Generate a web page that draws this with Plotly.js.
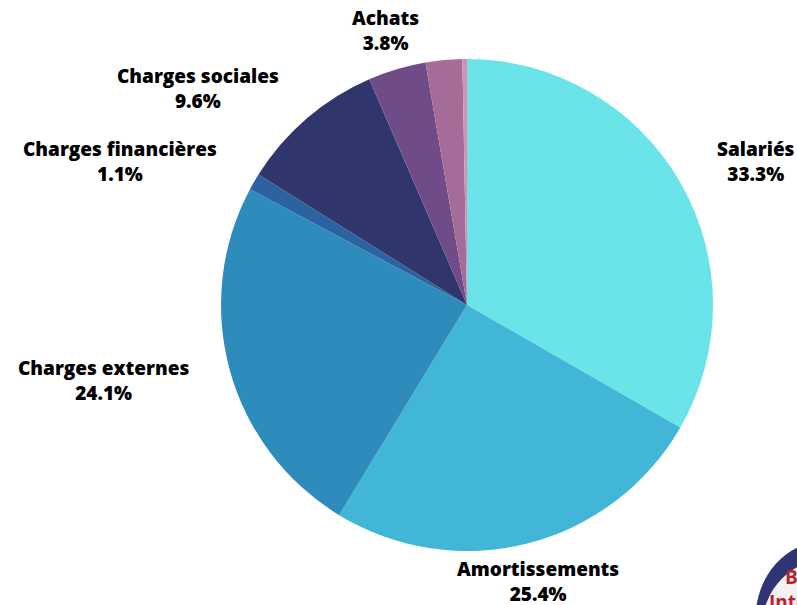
<!DOCTYPE html>
<html>
<head>
<meta charset="utf-8">
<script src="https://cdn.plot.ly/plotly-3.0.1.min.js"></script>
<style>html,body{margin:0;padding:0;background:#fff;}#chart{width:797px;height:605px;}</style>
</head>
<body>
<div id="chart"></div>
<script>
var categories = ["Salariés", "Amortissements", "Charges externes", "Charges financières", "Charges sociales", "Achats", "Impôts et taxes", "Autres"];
var values = [33.3, 25.4, 24.1, 1.1, 9.6, 3.8, 2.4, 0.3];
var showLabel = [true, true, true, true, true, true, false, false];
var colors = ["#6ae4e9", "#42b6d6", "#2e8cbc", "#2b62a0", "#30366c", "#6f4c87", "#a66c98", "#d98fb4"];

var W = 797, H = 605;
var domainX = [0.2773, 0.8946], domainY = [0.0893, 0.9025];

var trace = {
  type: "pie",
  labels: categories,
  values: values,
  sort: false,
  direction: "clockwise",
  rotation: 0,
  marker: {colors: colors, line: {width: 0}},
  textinfo: "none",
  automargin: false,
  domain: {x: domainX, y: domainY},
  hoverinfo: "label+percent",
  showlegend: false
};

// outside labels placed along each slice's mid-angle
var cx = (domainX[0] + domainX[1]) / 2 * W;
var cy = (1 - (domainY[0] + domainY[1]) / 2) * H;
var radius = Math.min((domainX[1] - domainX[0]) * W, (domainY[1] - domainY[0]) * H) / 2;
var labelDist = radius + 40;
var total = values.reduce(function (a, b) { return a + b; }, 0);
var annotations = [];
var cum = 0;
values.forEach(function (v, i) {
  var mid = (cum + v / 2) / total * 2 * Math.PI;
  cum += v;
  if (!showLabel[i]) return;
  var s = Math.sin(mid), c = Math.cos(mid);
  var px = cx + labelDist * s, py = cy - labelDist * c;
  var xa = s > 0.45 ? "left" : (s < -0.45 ? "right" : "center");
  annotations.push({
    xref: "paper", yref: "paper",
    x: px / W, y: 1 - py / H,
    xanchor: xa, yanchor: "middle", align: "center",
    text: categories[i] + "<br>" + (v / total * 100).toFixed(1) + "%",
    showarrow: false,
    font: {family: "Open Sans", size: 19, color: "#000", weight: 800}
  });
});

annotations.push(
  {xref: "paper", yref: "paper", x: 0.983, y: 0.047, xanchor: "left", yanchor: "middle", text: "<b>B</b>", showarrow: false, font: {family: "Open Sans", size: 19, color: "#c0202a"}},
  {xref: "paper", yref: "paper", x: 0.962, y: 0.005, xanchor: "left", yanchor: "middle", text: "<b>Inte</b>", showarrow: false, font: {family: "Open Sans", size: 19, color: "#c0202a"}}
);

var layout = {
  width: W,
  height: H,
  margin: {l: 0, r: 0, t: 0, b: 0},
  paper_bgcolor: "#fff",
  showlegend: false,
  shapes: [
    {type: "circle", xref: "paper", yref: "paper", x0: 0.948, x1: 1.12, y0: -0.15, y1: 0.105, fillcolor: "#2e3474", line: {width: 0}},
    {type: "circle", xref: "paper", yref: "paper", x0: 0.956, x1: 1.12, y0: -0.15, y1: 0.075, fillcolor: "#f2f2f4", line: {width: 0}}
  ],
  annotations: annotations
};

Plotly.newPlot("chart", [trace], layout, {displayModeBar: false, staticPlot: true});
</script>
</body>
</html>
